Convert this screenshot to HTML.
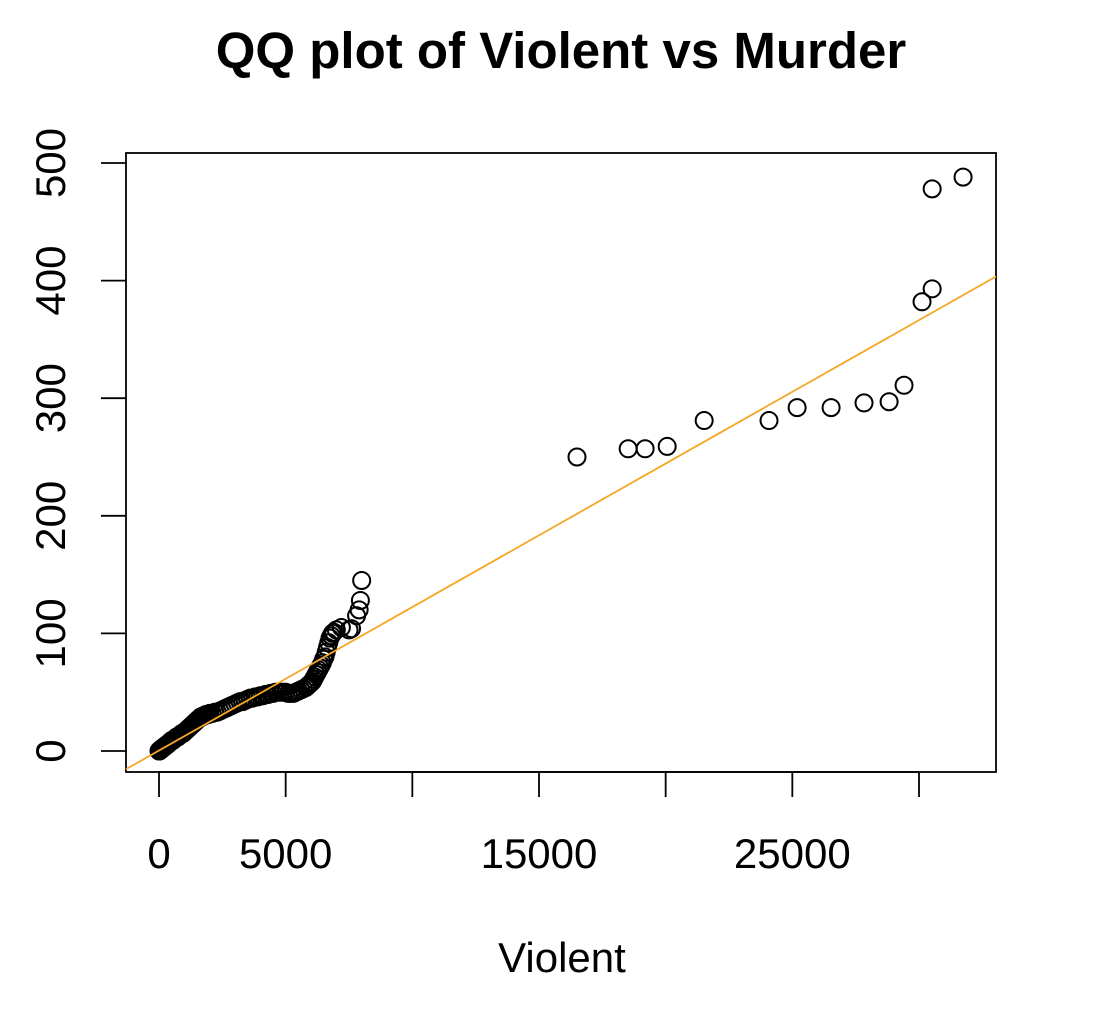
<!DOCTYPE html>
<html><head><meta charset="utf-8"><style>
body{margin:0;background:#fff;}
svg text{font-family:"Liberation Sans",Arial,sans-serif;}
</style></head><body>
<svg id="chart" width="1098" height="1012">
<rect width="1098" height="1012" fill="#fff"/>
<text x="561" y="68" font-size="51" font-weight="bold" text-anchor="middle">QQ plot of Violent vs Murder</text>
<rect x="126" y="153" width="870" height="619" fill="none" stroke="#000" stroke-width="1.8"/>
<g id="xaxis"></g>
<g id="yaxis"></g>
<text x="562" y="972" font-size="42" text-anchor="middle">Violent</text>
<g id="pts"></g>
<g id="ref"></g>
</svg>
<script>
const xTicks=[0,5000,10000,15000,20000,25000,30000];
const xTickLabels=["0","5000","","15000","","25000",""];
const yTicks=[0,100,200,300,400,500];
const yTickLabels=["0","100","200","300","400","500"];
const violent=[
0,20,40,60,80,100,130,160,190,220,
250,280,310,340,370,400,450,500,550,600,
650,700,750,800,850,900,950,1000,1050,1100,
1150,1200,1250,1300,1350,1400,1450,1500,1550,1600,
1650,1700,1750,1800,1850,1900,1950,2000,2100,2200,
2300,2400,2500,2600,2700,2800,2900,3000,3100,3200,
3300,3400,3500,3600,3700,3800,3900,4000,4100,4200,
4300,4400,4500,4600,4700,4800,4900,5000,5100,5200,
5300,5400,5500,5600,5700,5800,5850,5900,5950,6000,
6050,6100,6150,6200,6250,6300,6350,6400,6450,6500,
6550,6600,6650,6700,6750,6800,6850,6900,7000,7200,
7500,7600,7800,7900,7950,8000,
16500,18520,19190,20060,21520,24080,25190,26530,27830,28820,
29410,30120,30520,30520,31740];
const murder=[
0,0,1,1,1,2,2,3,3,4,
4,5,5,6,6,7,8,9,9,10,
11,12,12,13,14,15,15,16,17,18,
19,20,21,22,23,24,25,26,27,28,
29,29,30,30,31,31,31,32,32,33,
33,34,35,36,37,38,39,40,41,42,
42,43,44,45,45,46,46,47,47,48,
48,49,49,50,50,50,50,50,49,49,
49,50,51,52,53,54,55,56,57,58,
59,61,63,65,67,69,71,73,75,78,
80,84,88,92,96,98,100,101,103,105,
103,104,115,120,128,145,
250,257,257,259,281,281,292,292,296,297,
311,382,393,478,488];
const lineIntercept=0.4, lineSlope=0.0122;
const sx=v=>159+v*0.025333, sy=v=>751-v*1.176;
const NS="http://www.w3.org/2000/svg";
function mk(t,a,p){const e=document.createElementNS(NS,t);for(const k in a)e.setAttribute(k,a[k]);p.appendChild(e);return e;}
const xa=document.getElementById('xaxis');
mk('line',{x1:sx(0),x2:sx(30000),y1:772,y2:772,stroke:'#000','stroke-width':1.8},xa);
xTicks.forEach((t,i)=>{
 const l=mk('line',{x1:sx(t),x2:sx(t),y1:772,y2:797,stroke:'#000','stroke-width':1.8},xa);
 
 
 if(xTickLabels[i]){const tx=mk('text',{x:sx(t),y:868,'font-size':42,'text-anchor':'middle'},xa);tx.textContent=xTickLabels[i];
 
 }
});
const ya=document.getElementById('yaxis');
yTicks.forEach((t,i)=>{
 const l=mk('line',{x1:101,x2:126,y1:sy(t),y2:sy(t),stroke:'#000','stroke-width':1.8},ya);
 
 
 const tx=mk('text',{x:65,y:sy(t),'font-size':42,'text-anchor':'middle',transform:`rotate(-90 65 ${sy(t)})`},ya);tx.textContent=yTickLabels[i];
 
 
});
const pg=document.getElementById('pts');
violent.forEach((v,i)=>{
 const c=mk('circle',{cx:sx(v),cy:sy(murder[i]),r:8.5,fill:'none',stroke:'#000','stroke-width':2},pg);
 
 
});
const rg=document.getElementById('ref');
const x0=(126-159)/0.025333, x1=(996-159)/0.025333;
const ln=mk('line',{x1:126,y1:sy(lineIntercept+lineSlope*x0),x2:996,y2:sy(lineIntercept+lineSlope*x1),stroke:'#f5a623','stroke-width':1.8},rg);


</script>
</body></html>
